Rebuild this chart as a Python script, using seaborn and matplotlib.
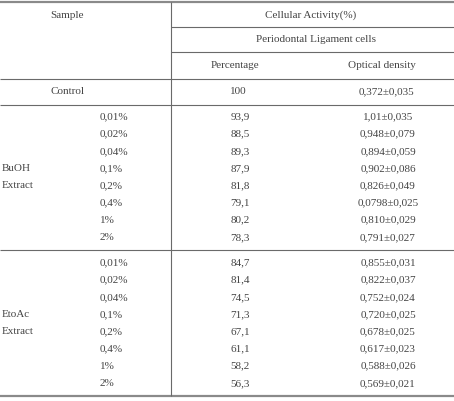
import seaborn as sns
from matplotlib import pyplot as plt

# table contents
conc = ['0,01%', '0,02%', '0,04%', '0,1%', '0,2%', '0,4%', '1%', '2%']
buoh_pct = ['93,9', '88,5', '89,3', '87,9', '81,8', '79,1', '80,2', '78,3']
buoh_od = ['1,01±0,035', '0,948±0,079', '0,894±0,059', '0,902±0,086',
           '0,826±0,049', '0,0798±0,025', '0,810±0,029', '0,791±0,027']
etoac_pct = ['84,7', '81,4', '74,5', '71,3', '67,1', '61,1', '58,2', '56,3']
etoac_od = ['0,855±0,031', '0,822±0,037', '0,752±0,024', '0,720±0,025',
            '0,678±0,025', '0,617±0,023', '0,588±0,026', '0,569±0,021']
control_pct = '100'
control_od = '0,372±0,035'

sns.set_theme(style='white')
plt.rcParams['font.family'] = ['Liberation Serif', 'DejaVu Serif']

fig = plt.figure(figsize=(4.54, 4.01), dpi=100)
ax = fig.add_axes([0, 0, 1, 1])
ax.set_xlim(0, 454)
ax.set_ylim(401, 0)
ax.axis('off')

tc = '#444444'
lc = '#6a6a6a'
fs = 8

# rules
ax.hlines([2], 0, 454, color='#8a8a8a', lw=1.6)
ax.hlines([27, 52], 171, 454, color=lc, lw=0.8)
ax.hlines([79, 105, 250], 0, 454, color=lc, lw=0.8)
ax.hlines([396], 0, 454, color='#8a8a8a', lw=1.6)
ax.vlines([171], 2, 396, color=lc, lw=0.8)

# header
ax.text(67, 15, 'Sample', ha='center', va='center', fontsize=fs, color=tc)
ax.text(311, 15, 'Cellular Activity(%)', ha='center', va='center', fontsize=fs, color=tc)
ax.text(316, 40, 'Periodontal Ligament cells', ha='center', va='center', fontsize=fs, color=tc)
ax.text(235, 66, 'Percentage', ha='center', va='center', fontsize=fs, color=tc)
ax.text(382, 66, 'Optical density', ha='center', va='center', fontsize=fs, color=tc)

# control
ax.text(68, 92, 'Control', ha='center', va='center', fontsize=fs, color=tc)
ax.text(238, 92, control_pct, ha='center', va='center', fontsize=fs, color=tc)
ax.text(386, 92, control_od, ha='center', va='center', fontsize=fs, color=tc)

step = 17.2
for start, name, pct, od in [(117, 'BuOH', buoh_pct, buoh_od),
                             (263, 'EtoAc', etoac_pct, etoac_od)]:
    ax.text(2, start + 3 * step, name, ha='left', va='center', fontsize=fs, color=tc)
    ax.text(2, start + 4 * step, 'Extract', ha='left', va='center', fontsize=fs, color=tc)
    for i, (c, p, o) in enumerate(zip(conc, pct, od)):
        y = start + i * step
        ax.text(100, y, c, ha='left', va='center', fontsize=fs, color=tc)
        ax.text(240, y, p, ha='center', va='center', fontsize=fs, color=tc)
        ax.text(388, y, o, ha='center', va='center', fontsize=fs, color=tc)

fig.savefig('out.png', dpi=100)
